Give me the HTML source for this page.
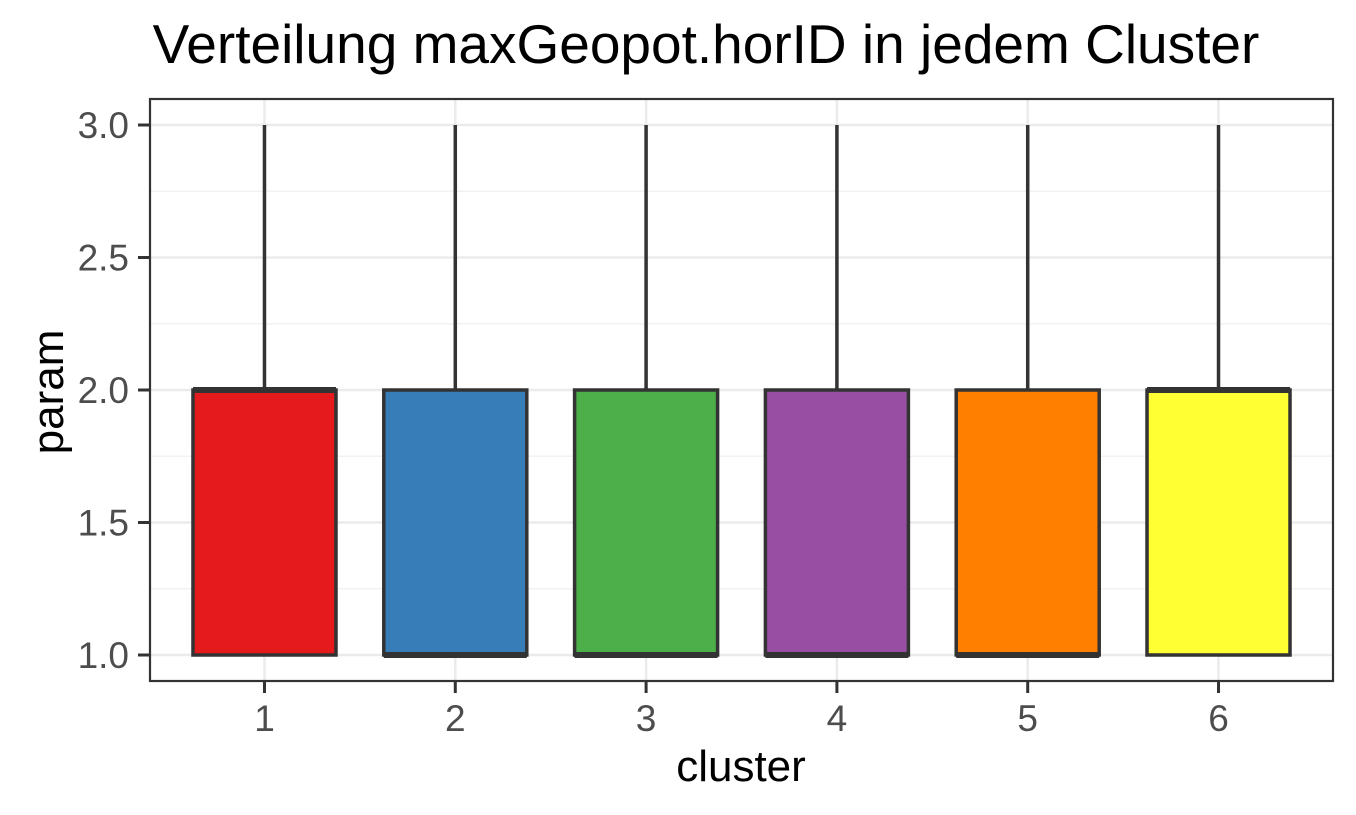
<!DOCTYPE html>
<html><head><meta charset="utf-8"><style>
body{margin:0;background:#fff;}
svg{display:block;font-family:"Liberation Sans",Arial,sans-serif;}
</style></head><body>
<svg id="chart" width="1356" height="815">
<text x="706" y="63" font-size="55" text-anchor="middle" fill="#000">Verteilung maxGeopot.horID in jedem Cluster</text>
<g id="grid"></g>
<g id="boxes"></g>
<rect x="150" y="99" width="1183" height="582" fill="none" stroke="#333" stroke-width="2.2"/>
<g id="axes"></g>
<text x="741" y="781" font-size="44" text-anchor="middle" fill="#000">cluster</text>
<text transform="translate(63,392) rotate(-90)" font-size="44" text-anchor="middle" fill="#000">param</text>
</svg>
<script>
const categories=["1","2","3","4","5","6"];
const colors=["#E41A1C","#377EB8","#4DAF4A","#984EA3","#FF7F00","#FFFF33"];
const q1=[1,1,1,1,1,1];
const median=[2,1,1,1,1,2];
const q3=[2,2,2,2,2,2];
const whiskerLow=[1,1,1,1,1,1];
const whiskerHigh=[3,3,3,3,3,3];
const yTicks=[1.0,1.5,2.0,2.5,3.0];
const yTickLabels=["1.0","1.5","2.0","2.5","3.0"];
const ns="http://www.w3.org/2000/svg";
const y=v=>655-(v-1)*265;
const x=i=>150+(i+1-0.4)*(1183/6.2);
const bw=143;
function mk(tag,attrs,parent){const e=document.createElementNS(ns,tag);for(const k in attrs)e.setAttribute(k,attrs[k]);parent.appendChild(e);return e;}
const grid=document.getElementById('grid'),boxes=document.getElementById('boxes'),axes=document.getElementById('axes');
for(let i=0;i<yTicks.length-1;i++){const m=(yTicks[i]+yTicks[i+1])/2;
const g=mk('line',{x1:150,x2:1333,y1:y(m),y2:y(m),stroke:'#f2f2f2','stroke-width':1.5},grid);

}
yTicks.forEach((t,i)=>{
const g=mk('line',{x1:150,x2:1333,y1:y(t),y2:y(t),stroke:'#ebebeb','stroke-width':2.5},grid);


const tk=mk('line',{x1:138,x2:150,y1:y(t),y2:y(t),stroke:'#333','stroke-width':3},axes);


const tx=mk('text',{x:129,y:y(t)+13,'font-size':37,'text-anchor':'end',fill:'#4d4d4d'},axes);
tx.textContent=yTickLabels[i];


});
categories.forEach((c,i)=>{
const cx=x(i);
const g=mk('line',{x1:cx,x2:cx,y1:99,y2:681,stroke:'#ebebeb','stroke-width':2.5},grid);


const wh=mk('line',{x1:cx,x2:cx,y1:y(whiskerHigh[i]),y2:y(q3[i]),stroke:'#333','stroke-width':3.5},boxes);


const wl=mk('line',{x1:cx,x2:cx,y1:y(whiskerLow[i]),y2:y(q1[i]),stroke:'#333','stroke-width':3.5},boxes);


const b=mk('rect',{x:cx-bw/2,y:y(q3[i]),width:bw,height:y(q1[i])-y(q3[i]),fill:colors[i],stroke:'#333','stroke-width':3.5},boxes);


const md=mk('line',{x1:cx-bw/2,x2:cx+bw/2,y1:y(median[i]),y2:y(median[i]),stroke:'#333','stroke-width':6},boxes);


const tk=mk('line',{x1:cx,x2:cx,y1:681,y2:693,stroke:'#333','stroke-width':3},axes);


const tx=mk('text',{x:cx,y:731,'font-size':37,'text-anchor':'middle',fill:'#4d4d4d'},axes);
tx.textContent=c;


});
</script>
</body></html>
